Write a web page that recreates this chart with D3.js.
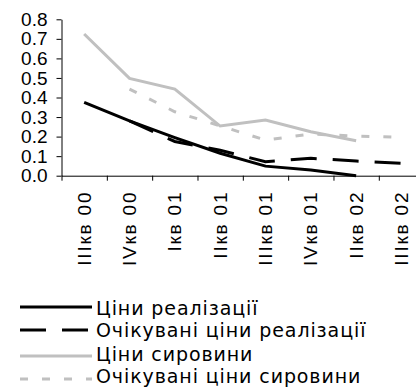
<!DOCTYPE html>
<html>
<head>
<meta charset="utf-8">
<script src="https://cdn.jsdelivr.net/npm/d3@7"></script>
<style>
  body { margin: 0; background: #fff; }
  svg { display: block; font-family: "DejaVu Sans", Verdana, sans-serif; }
  .axis path, .axis line { stroke: #000; stroke-width: 1; }
  .axis text { fill: #000; }
</style>
</head>
<body>
<svg id="chart" width="416" height="390"></svg>
<script>
// Quarterly categories
const categories = ["IIIкв 00", "IVкв 00", "Iкв 01", "IIкв 01", "IIIкв 01", "IVкв 01", "IIкв 02", "IIIкв 02"];

// Series values (null = no observation)
const salesPrices    = [0.375, 0.28, 0.195, 0.115, 0.049, 0.029, 0.0, null];
const expectedSales  = [null, 0.28, 0.175, 0.13, 0.072, 0.089, 0.075, 0.063];
const rawPrices      = [0.725, 0.498, 0.443, 0.254, 0.285, 0.225, 0.179, null];
const expectedRaw    = [null, 0.443, 0.327, 0.255, 0.182, 0.213, 0.203, 0.196];

const yTicks = [0, 0.1, 0.2, 0.3, 0.4, 0.5, 0.6, 0.7, 0.8];

const seriesNames = ["Ціни реалізації", "Очікувані ціни реалізації", "Ціни сировини", "Очікувані ціни сировини"];

const svg = d3.select("#chart");

const plotLeft = 61.5, plotTop = 19.3, plotBottom = 175.7, band = 45.33;
const plotRight = plotLeft + band * categories.length;

const x = d3.scaleBand().domain(categories).range([plotLeft, plotRight]).padding(0);
const y = d3.scaleLinear().domain([0, 0.8]).range([plotBottom, plotTop]);

// Y axis
const yAxis = svg.append("g").attr("class", "axis")
  .attr("transform", `translate(${plotLeft},0)`)
  .call(d3.axisLeft(y).tickValues(yTicks).tickFormat(d3.format(".1f")).tickSize(5).tickSizeOuter(0).tickPadding(9));
yAxis.selectAll("text").attr("font-size", 19);

// X axis: ticks at category boundaries
const bounds = d3.scaleLinear().domain([0, categories.length]).range([plotLeft, plotRight]);
svg.append("g").attr("class", "axis")
  .attr("transform", `translate(0,${plotBottom})`)
  .call(d3.axisBottom(bounds).tickValues(d3.range(0, categories.length + 1)).tickFormat("").tickSize(5).tickSizeOuter(0));

// X axis labels, rotated
const xLab = svg.append("g").attr("class", "axis")
  .attr("transform", `translate(0,${plotBottom})`)
  .call(d3.axisBottom(x).tickSize(0).tickSizeOuter(0));
xLab.select(".domain").remove();
xLab.selectAll("text")
  .attr("font-size", 19)
  .attr("letter-spacing", 1.8)
  .attr("text-anchor", "end")
  .attr("transform", "rotate(-90)")
  .attr("x", -15)
  .attr("y", 0)
  .attr("dy", "0.35em");

const cx = c => x(c) + x.bandwidth() / 2;

const line = d3.line()
  .defined(d => d.v !== null)
  .x(d => cx(d.c))
  .y(d => y(d.v));

const series = [
  { name: seriesNames[2], values: rawPrices, color: "#c0c0c0", dash: null },
  { name: seriesNames[3], values: expectedRaw, color: "#c0c0c0", dash: "8,14" },
  { name: seriesNames[0], values: salesPrices, color: "#000", dash: null },
  { name: seriesNames[1], values: expectedSales, color: "#000", dash: "26,16" }
];

svg.append("g").selectAll("path")
  .data(series)
  .join("path")
  .attr("fill", "none")
  .attr("stroke", d => d.color)
  .attr("stroke-width", 3)
  .attr("stroke-dasharray", d => d.dash)
  .attr("d", d => line(d.values.map((v, i) => ({ c: categories[i], v }))));

// Legend
const legendItems = [series[2], series[3], series[0], series[1]];
const legendLineY = [307, 330, 356, 379];
const legendTextY = [315, 337, 361, 383];
const lg = svg.append("g");
legendItems.forEach((s, i) => {
  lg.append("line")
    .attr("x1", 20).attr("x2", 92).attr("y1", legendLineY[i]).attr("y2", legendLineY[i])
    .attr("stroke", s.color).attr("stroke-width", 3)
    .attr("stroke-dasharray", s.dash);
  lg.append("text")
    .attr("x", 96).attr("y", legendTextY[i])
    .attr("font-size", 19)
    .attr("letter-spacing", 0.9)
    .attr("fill", "#000")
    .text(s.name);
});
</script>
</body>
</html>
